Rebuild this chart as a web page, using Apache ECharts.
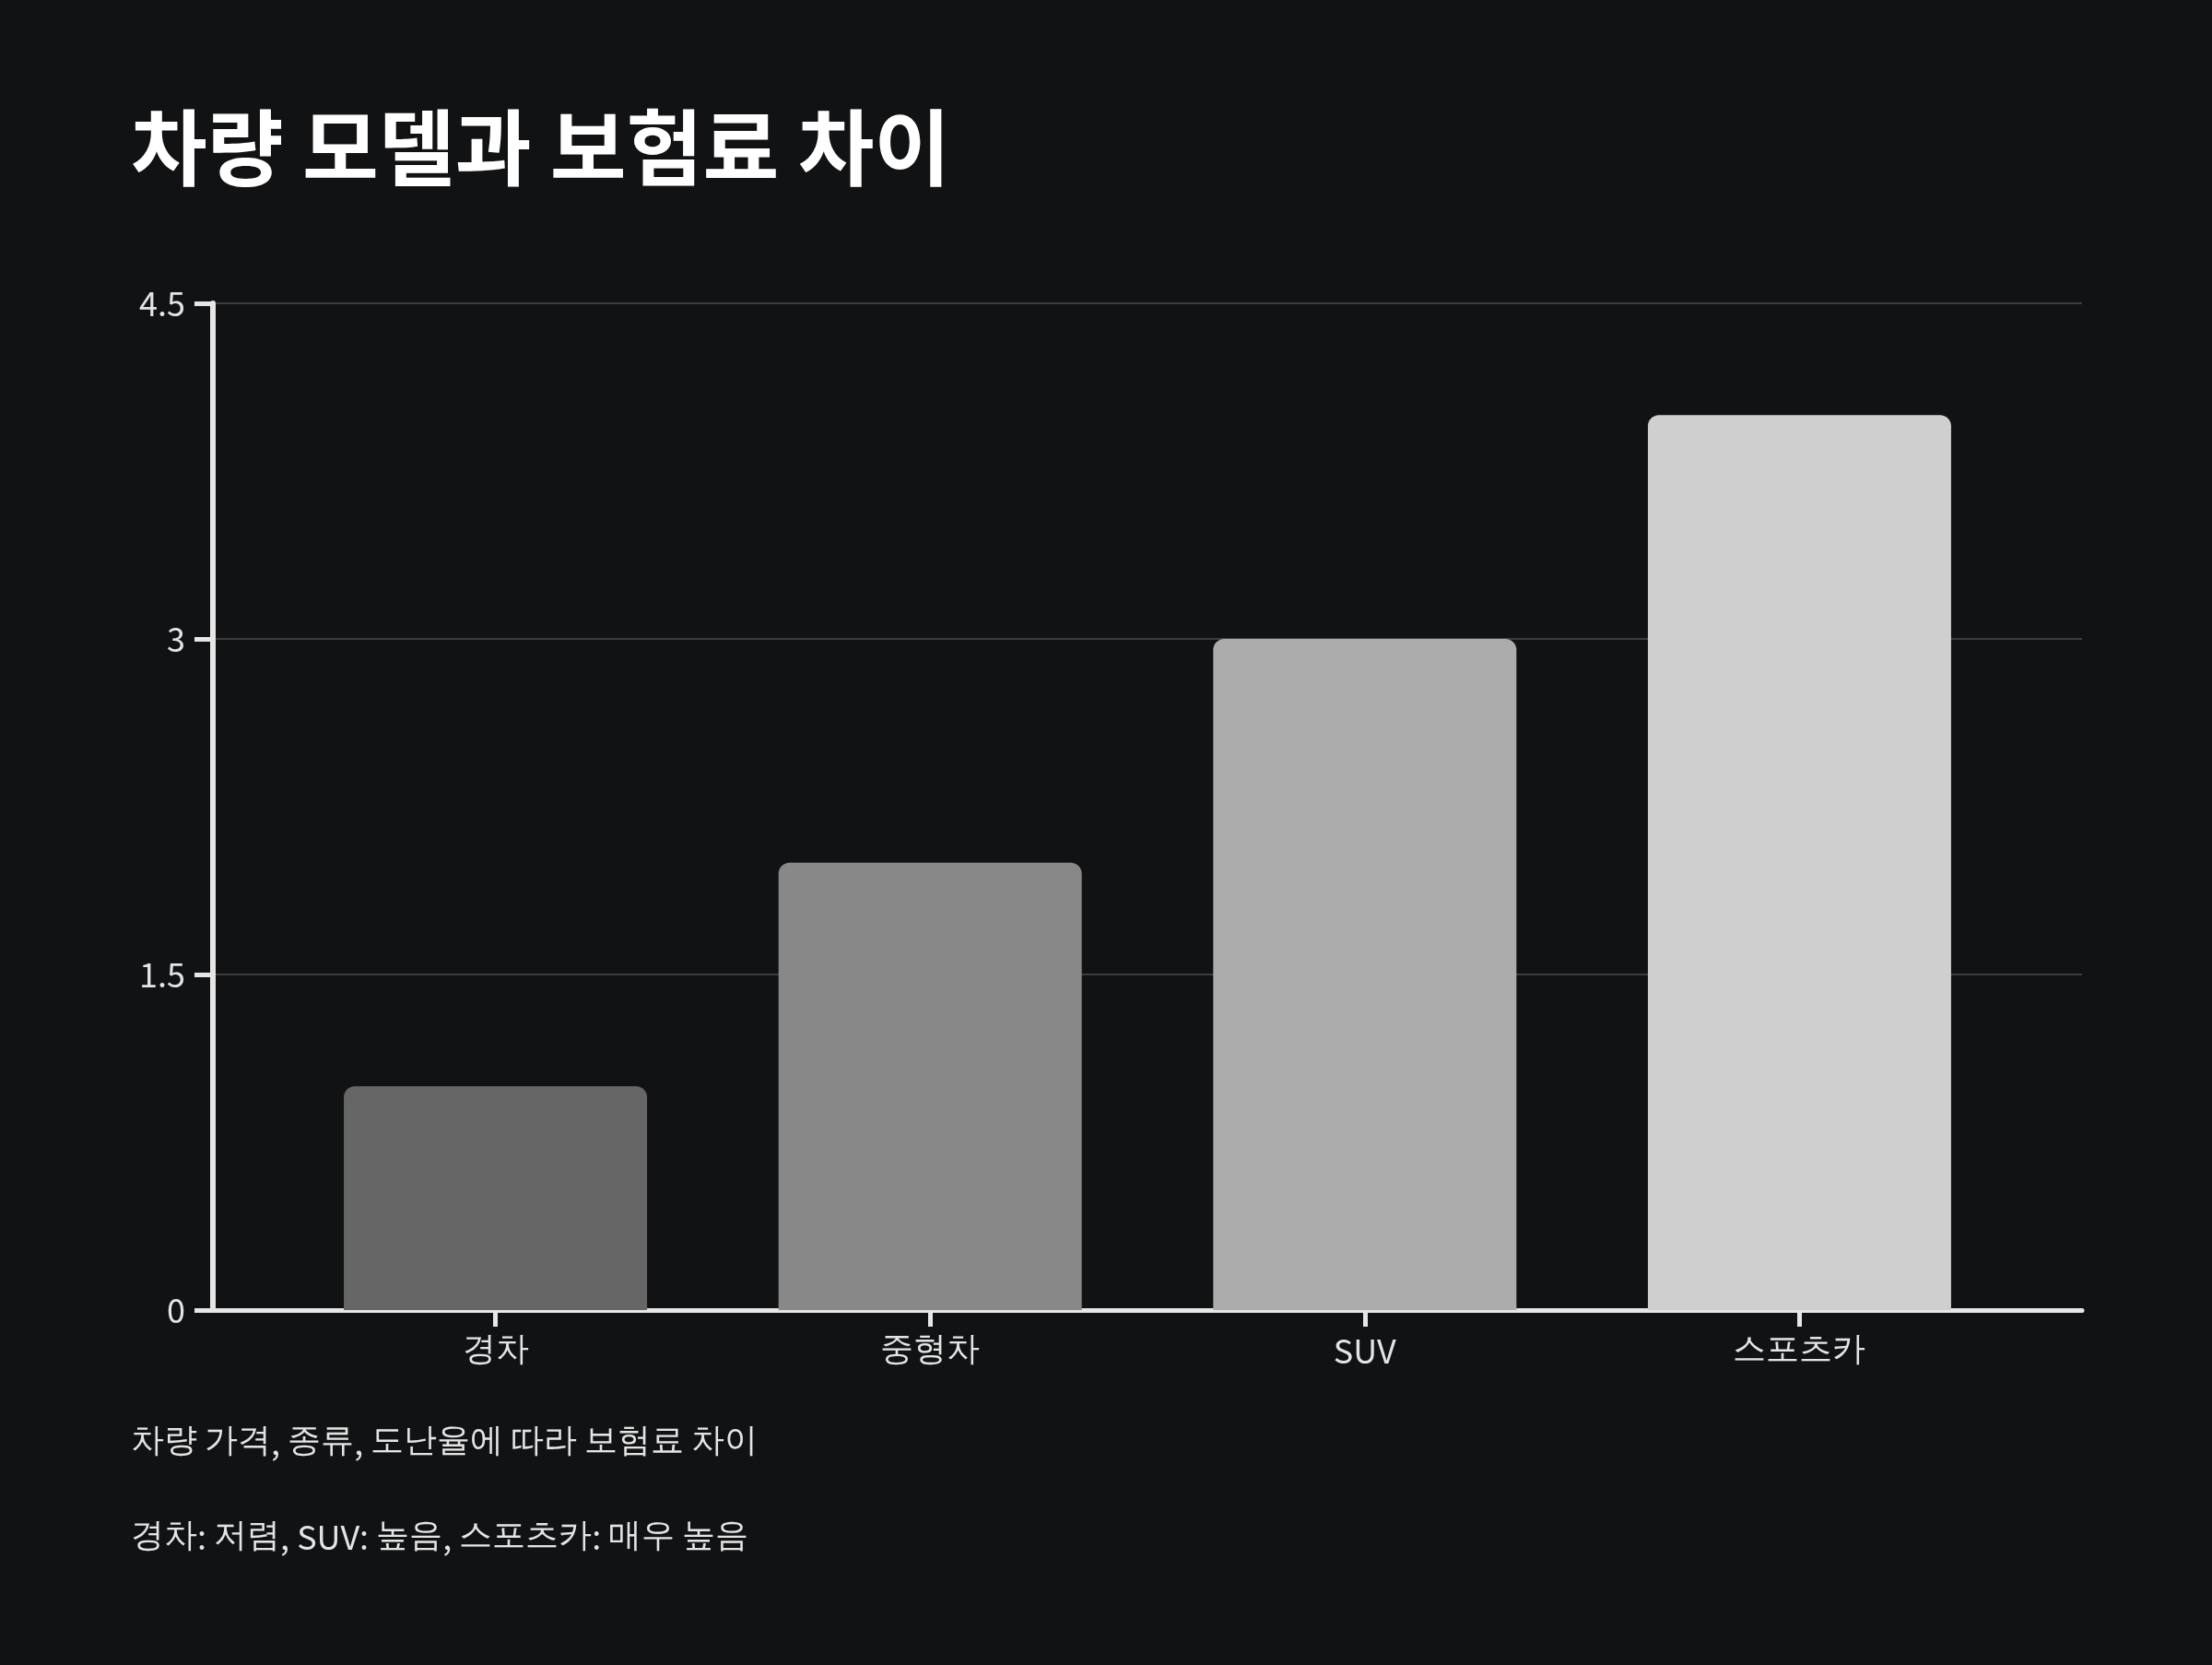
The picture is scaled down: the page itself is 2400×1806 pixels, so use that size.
<!DOCTYPE html>
<html>
<head>
<meta charset="utf-8">
<script src="https://cdn.jsdelivr.net/npm/echarts@6/dist/echarts.min.js"></script>
<style>
  html, body { margin: 0; padding: 0; background: #111214; }
  #chart { width: 2400px; height: 1806px; }
</style>
</head>
<body>
<div id="chart"></div>
<script>
// ---- data ----
const titleText = '차량 모델과 보험료 차이';
const noteLines = ['차량 가격, 종류, 도난율에 따라 보험료 차이', '경차: 저렴, SUV: 높음, 스포츠카: 매우 높음'];
const categories = ['경차', '중형차', 'SUV', '스포츠카'];
const premiumLevel = [1, 2, 3, 4];
const yTicks = [0, 1.5, 3, 4.5];
const barColors = ['#666666', '#888888', '#acacac', '#cfcfcf'];

const FONT = '"Noto Sans CJK KR", "Noto Sans", sans-serif';
const HANGUL_FONT = '"Noto Sans", sans-serif';
const TEXT_COLOR = '#e4e4e4';

// split text into Hangul / other runs so each run uses its own font
function toRich(str) {
  return str.replace(/([\uAC00-\uD7A3\u3130-\u318F]+)|([^\uAC00-\uD7A3\u3130-\u318F]+)/g,
    (m, h, l) => h ? '{h|' + h + '}' : '{l|' + l + '}');
}
function richStyles(size) {
  return {
    h: { fontFamily: HANGUL_FONT, fontSize: size, color: TEXT_COLOR },
    l: { fontFamily: FONT, fontSize: size, color: TEXT_COLOR }
  };
}

const chart = echarts.init(document.getElementById('chart'), null, { renderer: 'canvas' });
const catIdx = categories.map((c, i) => i);

chart.setOption({
  backgroundColor: '#111214',
  animation: false,
  title: [
    { text: titleText, left: 137, top: 110,
      textStyle: { color: '#ffffff', fontSize: 90, fontWeight: 'bold', fontFamily: FONT } },
    { text: toRich(noteLines[0]), left: 137, top: 1541,
      textStyle: { color: TEXT_COLOR, fontSize: 36, fontWeight: 'normal', fontFamily: FONT, rich: richStyles(36) } },
    { text: toRich(noteLines[1]), left: 137, top: 1644,
      textStyle: { color: TEXT_COLOR, fontSize: 36, fontWeight: 'normal', fontFamily: FONT, rich: richStyles(36) } }
  ],
  grid: { left: 231, right: 141, top: 329, bottom: 385, containLabel: false },
  xAxis: {
    type: 'value',
    min: -0.65, max: 3.65,
    splitLine: { show: false },
    axisLine: { show: true, onZero: false, lineStyle: { color: '#e6e6e6', width: 5 } },
    axisTick: { show: true, customValues: catIdx, length: 18, lineStyle: { color: '#e6e6e6', width: 5 } },
    axisLabel: { show: true, customValues: catIdx, margin: 26,
      formatter: v => toRich(categories[Math.round(v)] || ''),
      color: TEXT_COLOR, fontSize: 36, fontFamily: FONT, rich: richStyles(36) }
  },
  yAxis: {
    type: 'value',
    min: yTicks[0], max: yTicks[yTicks.length - 1], interval: yTicks[1] - yTicks[0],
    axisLine: { show: true, onZero: false, lineStyle: { color: '#e6e6e6', width: 6 } },
    axisTick: { show: true, length: 20, lineStyle: { color: '#e6e6e6', width: 5 } },
    axisLabel: { margin: 30, color: TEXT_COLOR, fontSize: 36, fontFamily: FONT },
    splitLine: { show: true, lineStyle: { color: '#3c3d3f', width: 2 } }
  },
  series: [{
    type: 'bar',
    barWidth: 329,
    data: premiumLevel.map((v, i) => ({
      value: [i, v],
      itemStyle: { color: barColors[i], borderRadius: [12, 12, 0, 0] }
    })),
    z: 1
  }]
});
</script>
</body>
</html>
